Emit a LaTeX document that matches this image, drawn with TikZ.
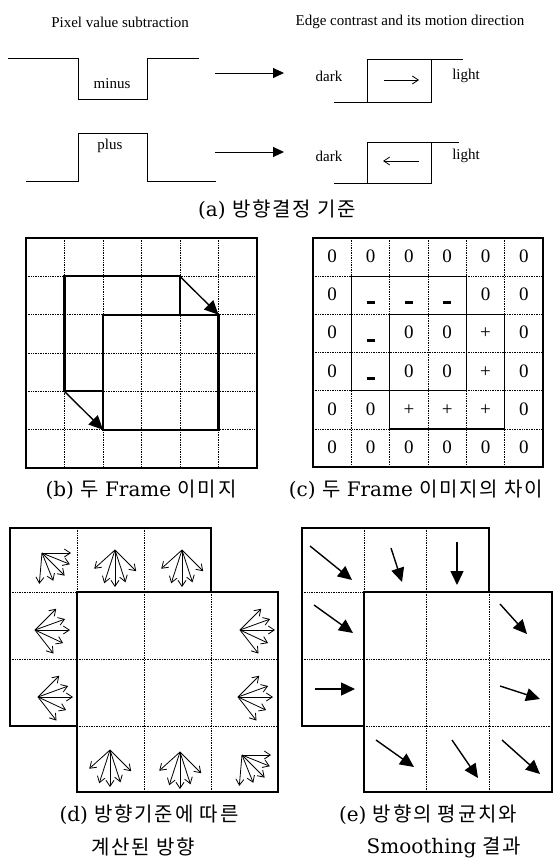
\documentclass[tikz,border=0pt]{standalone}
\usepackage{fontspec}
\setmainfont{Liberation Serif}
\newfontfamily\capfont{DejaVu Serif}
\newfontfamily\kr[LetterSpace=9]{Noto Sans CJK KR}
\usetikzlibrary{arrows.meta,positioning,calc}
\newcommand{\dsh}{\rule[-3pt]{8pt}{2.8pt}}

\begin{document}
\begin{tikzpicture}[
    x=1pt, y=-1pt,
    lbl/.style={font=\fontsize{15}{17}\selectfont, inner sep=0pt},
    caption/.style={font=\capfont\fontsize{20}{23}\selectfont, inner sep=0pt},
    num/.style={font=\fontsize{19}{21}\selectfont, inner sep=0pt, text height=13pt, text depth=0pt},
    wave/.style={line width=0.9pt},
    boxline/.style={line width=1.2pt},
    gridline/.style={densely dotted, line width=0.7pt},
    outline/.style={line width=2.2pt},
    arrow/.style={-{Triangle[length=11pt,width=10pt]}, line width=0.9pt},
    motion/.style={-{Straight Barb[length=6pt,width=8pt]}, line width=0.8pt},
    fat/.style={-{Triangle[length=14pt,width=13pt]}, line width=1.4pt},
    fan/.style={-{Straight Barb[length=6pt,width=8pt]}, line width=0.8pt}
]
\useasboundingbox (0,0) rectangle (556,864);

% (a)
\node[lbl] (sub) at (120,22) {Pixel value subtraction};
\node[lbl] (contrast) at (410,22) {Edge contrast and its motion direction};

\draw[wave] (8,58) -- (78,58) -- (78,99) -- (147,99) -- (147,58) -- (199,58);
\node[lbl] (minus) at (112,84) {minus};
\draw[wave] (26,181) -- (78,181) -- (78,133) -- (147,133) -- (147,181) -- (216,181);
\node[lbl] (plus) at (110,146) {plus};

\coordinate (m-from) at (215,73);
\coordinate (m-to) at (284,73);
\coordinate (p-from) at (215,152);
\coordinate (p-to) at (284,152);
\draw[arrow] (m-from) -- (m-to);
\draw[arrow] (p-from) -- (p-to);

\node[lbl] (dark1) at (329,76) {dark};
\node[lbl] (light1) at (466,76) {light};
\draw[wave] (367,59) rectangle (431,102) (334,102) -- (367,102) (431,59) -- (463,59);
\draw[motion] (384,80) -- (419,80);

\node[lbl] (dark2) at (329,156) {dark};
\node[lbl] (light2) at (466,156) {light};
\draw[wave] (367,142) rectangle (431,183) (334,183) -- (367,183) (431,142) -- (459,142);
\draw[motion] (419,161) -- (383,161);

\node[caption] (capa) at (277,210) {(a) {\kr 방향결정 기준}};

% (b)
\foreach \i in {1,...,5} {
  \draw[gridline] (26+38.5*\i,238) -- (26+38.5*\i,468);
  \draw[gridline] (26,238+38.33*\i) -- (257,238+38.33*\i);
}
\draw[boxline] (26,238) rectangle (257,468);
\draw[outline] (103,391.3) -| (64.5,276.3) -| (180,314.7);
\draw[outline] (103,314.7) rectangle (218.5,429.7);
\draw[fat] (180,276.3) -- (218.5,314.7);
\draw[fat] (64.5,391.3) -- (103,429.7);
\node[caption] (capb) at (141,490) {(b) {\kr 두} Frame {\kr 이미지}};

% (c)
\foreach \i in {1,...,5} {
  \draw[gridline] (313+38.33*\i,238) -- (313+38.33*\i,467);
  \draw[gridline] (313,238+38.17*\i) -- (543,238+38.17*\i);
}
\draw[boxline] (313,238) rectangle (543,467);
\draw[line width=1.4pt] (351.3,276.2) rectangle (466.3,390.7);
\draw[line width=1.4pt] (389.7,314.3) rectangle (504.7,428.8);
\foreach \row [count=\r from 0] in {{0,0,0,0,0,0},{0,\dsh,\dsh,\dsh,0,0},{0,\dsh,0,0,+,0},{0,\dsh,0,0,+,0},{0,0,+,+,+,0},{0,0,0,0,0,0}}
  \foreach \v [count=\c from 0] in \row
    \node[num] (n\r\c) at (332.2+38.33*\c, 256+38.17*\r) {\v};
\node[caption] (capc) at (416,490) {(c) {\kr 두} Frame {\kr 이미지의 차이}};

% (d)
\draw[gridline] (77,528) -- (77,592) (144,528) -- (144,592) (10,592) -- (77,592) (10,659) -- (77,659);
\draw[boxline] (10,528) rectangle (211,726);
\draw[boxline, fill=white] (77,592) rectangle (278,792);
\draw[gridline] (144,592) -- (144,792) (211,592) -- (211,792) (77,659) -- (278,659) (77,726) -- (278,726);
\foreach \p in {(115,550),(182,550),(110,750),(180,752)}
  \foreach \a/\l in {138/28, 108/35, 90/37, 72/34, 45/30}
    \draw[fan] \p -- ++(\a:\l);
\foreach \p in {(35,630),(38,697),(240,630),(238,697)}
  \foreach \a/\l in {-45/30, -20/32, 0/35, 25/31, 52/30}
    \draw[fan] \p -- ++(\a:\l);
\foreach \p in {(42,553),(242,755)}
  \foreach \a/\l in {0/29, 22/30, 45/32, 68/30, 95/31}
    \draw[fan] \p -- ++(\a:\l);
\node[caption] (capd1) at (149,815) {(d) {\kr 방향기준에 따른}};
\node[caption] (capd2) at (143,847) {\kr 계산된 방향};

% (e)
\draw[gridline] (364,528) -- (364,592) (426,528) -- (426,592) (302,592) -- (364,592) (302,659) -- (364,659);
\draw[boxline] (302,528) rectangle (489,726);
\draw[boxline, fill=white] (364,592) rectangle (552,792);
\draw[gridline] (426,592) -- (426,792) (489,592) -- (489,792) (364,659) -- (552,659) (364,726) -- (552,726);
\draw[fat] (310,546) -- (352,580);
\draw[fat] (391,548) -- (402,582);
\draw[fat] (457,542) -- (457,585);
\draw[fat] (314,605) -- (353,633);
\draw[fat] (315,689) -- (355,689);
\draw[fat] (500,604) -- (527,634);
\draw[fat] (500,686) -- (540,699);
\draw[fat] (376,740) -- (414,767);
\draw[fat] (452,740) -- (478,778);
\draw[fat] (502,740) -- (540,774);
\node[caption] (cape1) at (428,815) {(e) {\kr 방향의 평균치와}};
\node[caption] (cape2) at (444,847) {Smoothing {\kr 결과}};
\end{tikzpicture}
\end{document}
